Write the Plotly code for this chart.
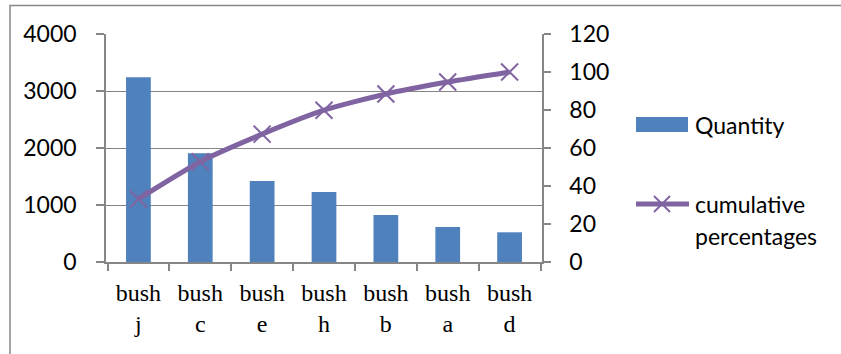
import plotly.graph_objects as go

# Pareto data: bush categories sorted by quantity, with running percentage
categories = ["bush<br>j", "bush<br>c", "bush<br>e", "bush<br>h", "bush<br>b", "bush<br>a", "bush<br>d"]
quantity = [3240, 1910, 1420, 1230, 825, 614, 521]
cumulative_pct = [33.2, 52.8, 67.3, 79.9, 88.4, 94.7, 100]

left_ticks = [0, 1000, 2000, 3000, 4000]
right_ticks = [0, 20, 40, 60, 80, 100, 120]

BAR_COLOR = "#4F81BD"
LINE_COLOR = "#8064A2"
AXIS_GREY = "#868686"
SANS = "Lato"
SERIF = "Liberation Serif"

W, H = 841, 354
PL, PR, PT, PB = 106, 542, 34, 262  # plot area in pixels


def px(x):
    return (x - PL) / (PR - PL)


def py(y):
    return (PB - y) / (PB - PT)


fig = go.Figure()

fig.add_trace(go.Bar(
    x=categories, y=quantity, name="Quantity",
    marker=dict(color=BAR_COLOR, line=dict(width=0)),
    width=0.4, yaxis="y", showlegend=False,
))

fig.add_trace(go.Scatter(
    x=categories, y=cumulative_pct, name="cumulative percentages",
    mode="lines+markers", yaxis="y2",
    line=dict(color=LINE_COLOR, width=5, shape="spline", smoothing=0.6),
    marker=dict(symbol="x-thin", size=17, color=LINE_COLOR,
                line=dict(color=LINE_COLOR, width=2)),
    showlegend=False,
))

shapes = [
    # outer frame (top and left edges visible)
    dict(type="rect", xref="paper", yref="paper",
         x0=px(10), x1=px(W + 20), y0=py(5.5), y1=py(H + 20),
         line=dict(color="#888888", width=1.5), fillcolor="rgba(0,0,0,0)",
         layer="below"),
    # legend: bar swatch
    dict(type="rect", xref="paper", yref="paper",
         x0=px(636), x1=px(688), y0=py(132), y1=py(117),
         line=dict(width=0), fillcolor=BAR_COLOR),
    # legend: line swatch
    dict(type="line", xref="paper", yref="paper",
         x0=px(636), x1=px(689), y0=py(204), y1=py(204),
         line=dict(color=LINE_COLOR, width=5)),
    # legend: marker cross
    dict(type="line", xref="paper", yref="paper",
         x0=px(654), x1=px(670), y0=py(196), y1=py(212),
         line=dict(color=LINE_COLOR, width=2)),
    dict(type="line", xref="paper", yref="paper",
         x0=px(654), x1=px(670), y0=py(212), y1=py(196),
         line=dict(color=LINE_COLOR, width=2)),
]

annotations = [
    dict(text="Quantity", xref="paper", yref="paper", x=px(693), y=py(125),
         xanchor="left", yanchor="middle", showarrow=False,
         font=dict(family=SANS, size=23, color="#000000")),
    dict(text="cumulative", xref="paper", yref="paper", x=px(693), y=py(204),
         xanchor="left", yanchor="middle", showarrow=False,
         font=dict(family=SANS, size=23, color="#000000")),
    dict(text="percentages", xref="paper", yref="paper", x=px(693), y=py(236),
         xanchor="left", yanchor="middle", showarrow=False,
         font=dict(family=SANS, size=23, color="#000000")),
]

fig.update_layout(
    width=W, height=H,
    margin=dict(l=PL, r=W - PR, t=PT, b=H - PB, pad=0),
    paper_bgcolor="white", plot_bgcolor="white",
    showlegend=False,
    bargap=0.6,
    shapes=shapes,
    annotations=annotations,
    xaxis=dict(
        type="category", tickson="boundaries",
        showline=True, linecolor=AXIS_GREY, linewidth=1.5,
        ticks="outside", ticklen=7, tickcolor=AXIS_GREY, tickwidth=1.5,
        showgrid=False, ticklabelstandoff=8,
        tickfont=dict(family=SERIF, size=24, color="#000000"),
    ),
    yaxis=dict(
        range=[0, 4000], tickvals=left_ticks,
        showline=True, linecolor=AXIS_GREY, linewidth=1.5,
        ticks="outside", ticklen=8, tickcolor=AXIS_GREY, tickwidth=1.5,
        showgrid=True, gridcolor=AXIS_GREY, gridwidth=1.3,
        zeroline=False, ticklabelstandoff=15,
        tickfont=dict(family=SANS, size=23, color="#000000"),
    ),
    yaxis2=dict(
        range=[0, 120], tickvals=right_ticks,
        overlaying="y", side="right",
        showline=True, linecolor=AXIS_GREY, linewidth=1.5,
        ticks="outside", ticklen=7, tickcolor=AXIS_GREY, tickwidth=1.5,
        showgrid=False, zeroline=False, ticklabelstandoff=14,
        tickfont=dict(family=SANS, size=23, color="#000000"),
    ),
)

fig.write_html("out.html")
